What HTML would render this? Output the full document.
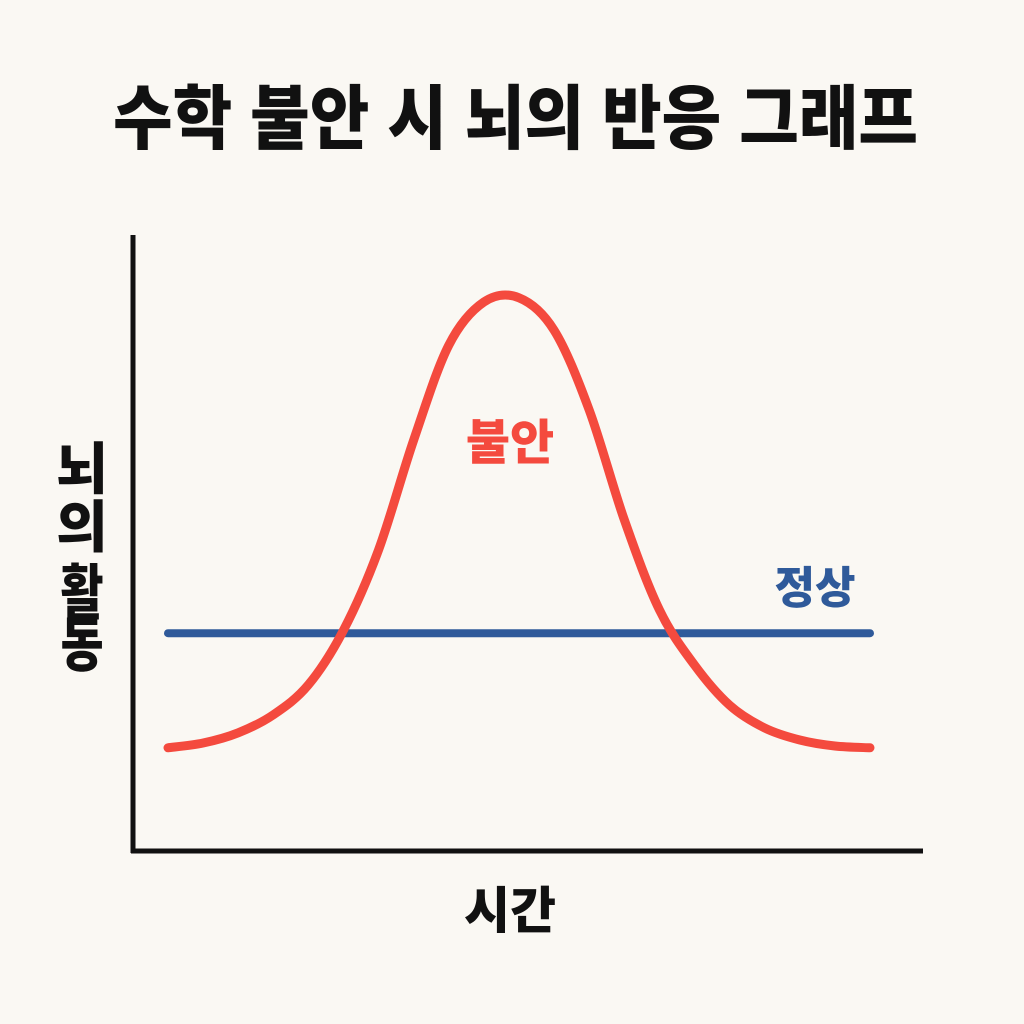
<!DOCTYPE html>
<html><head><meta charset="utf-8">
<style>
html,body{margin:0;padding:0;background:#faf8f3;}
svg{display:block;}
text{font-family:"Liberation Sans","Noto Sans CJK KR",sans-serif;font-weight:900;}
</style></head>
<body>
<svg id="chart" width="1024" height="1024" viewBox="0 0 1024 1024" xmlns="http://www.w3.org/2000/svg">
<rect width="1024" height="1024" fill="#faf8f3"/>
<text x="113" y="143" font-size="70" textLength="805" lengthAdjust="spacingAndGlyphs" fill="#111">수학 불안 시 뇌의 반응 그래프</text>
<line x1="133" y1="235" x2="133" y2="853" stroke="#111" stroke-width="5"/>
<line x1="131" y1="851" x2="923" y2="851" stroke="#111" stroke-width="5"/>
<text x="510" y="928" font-size="50" text-anchor="middle" fill="#111">시간</text>
<g fill="#111" text-anchor="middle">
<text x="82" y="489" font-size="56">뇌</text>
<text x="82" y="547" font-size="56">의</text>
<text x="82" y="614" font-size="60" transform="translate(82 0) scale(0.78 1) translate(-82 0)">활</text>
<text x="82" y="666" font-size="60" transform="translate(82 0) scale(0.78 1) translate(-82 0)">동</text>
</g>
<g id="series"></g>
<text x="510" y="459" font-size="48" text-anchor="middle" fill="#f44a3e">불안</text>
<text x="815" y="603" font-size="44" text-anchor="middle" fill="#2f5a9a">정상</text>
</svg>
<script>
const times = [0,0.5,1,1.5,2,2.5,3,3.5,4,4.5,5,5.5,6,6.5,7,7.5,8,8.5,9,9.5,10];
const anxietyValues = [1.72,1.80,1.97,2.27,2.77,3.68,5.02,6.85,8.43,9.15,9.22,8.68,7.35,5.52,4.02,3.10,2.43,2.05,1.85,1.75,1.72];
const normalValue = [3.63];
const xScale = v => 168 + v * 70.2;
const yScale = v => 851 - v * 60;
const g = document.getElementById('series');
const ns = 'http://www.w3.org/2000/svg';
const blue = document.createElementNS(ns,'line');


blue.setAttribute('x1', xScale(times[0]));
blue.setAttribute('x2', xScale(times[times.length-1]));
blue.setAttribute('y1', yScale(normalValue[0]));
blue.setAttribute('y2', yScale(normalValue[0]));
blue.setAttribute('stroke', '#2f5a9a');
blue.setAttribute('stroke-width', '8');
blue.setAttribute('stroke-linecap', 'round');
g.appendChild(blue);
const pts = times.map((t,i)=>[xScale(t), yScale(anxietyValues[i])]);
let d = 'M' + pts[0][0] + ',' + pts[0][1];
for (let i=0;i<pts.length-1;i++){
  const p0 = pts[Math.max(0,i-1)], p1 = pts[i], p2 = pts[i+1], p3 = pts[Math.min(pts.length-1,i+2)];
  const c1x = p1[0] + (p2[0]-p0[0])/6, c1y = p1[1] + (p2[1]-p0[1])/6;
  const c2x = p2[0] - (p3[0]-p1[0])/6, c2y = p2[1] - (p3[1]-p1[1])/6;
  d += ' C' + c1x + ',' + c1y + ' ' + c2x + ',' + c2y + ' ' + p2[0] + ',' + p2[1];
}
const red = document.createElementNS(ns,'path');


red.setAttribute('d', d);
red.setAttribute('fill', 'none');
red.setAttribute('stroke', '#f44a3e');
red.setAttribute('stroke-width', '9');
red.setAttribute('stroke-linecap', 'round');
g.appendChild(red);
</script>
</body></html>
